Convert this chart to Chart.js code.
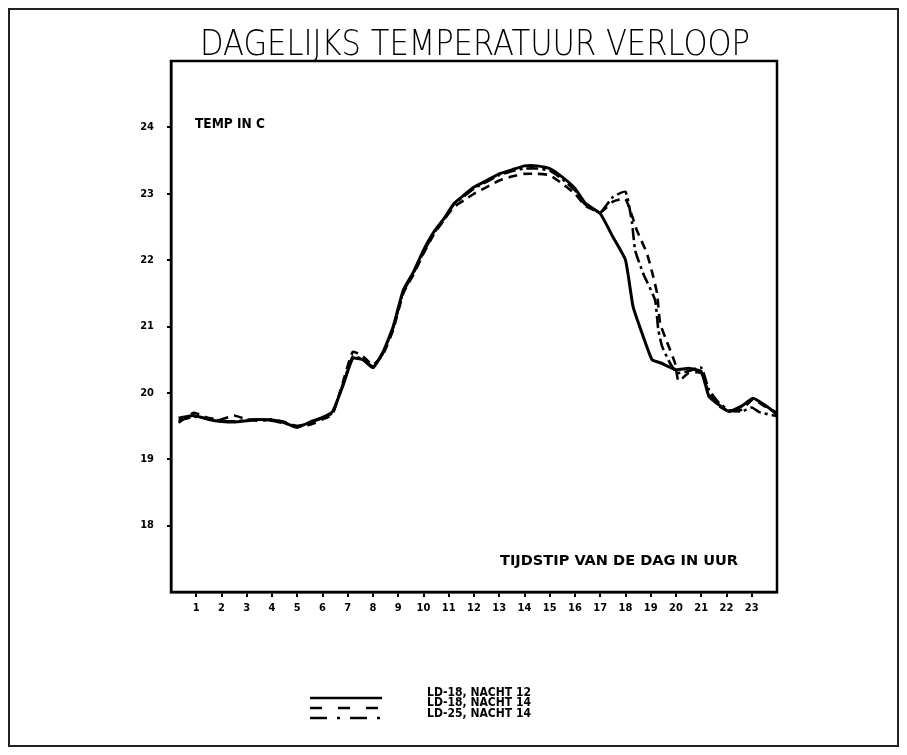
<!DOCTYPE html>
<html><head><meta charset="utf-8">
<script src="https://cdn.jsdelivr.net/npm/chart.js@4.4.1/dist/chart.umd.min.js"></script>
<style>html,body{margin:0;padding:0;background:#fff}#wrap{width:907px;height:755px}</style>
</head><body><div id="wrap"><canvas id="c" width="907" height="755"></canvas></div>
<script>
// ---- text ----
const chartTitle = 'DAGELIJKS TEMPERATUUR VERLOOP';
const yAxisTitle = 'TEMP IN C';
const xAxisTitle = 'TIJDSTIP VAN DE DAG IN UUR';
const seriesLabels = ['LD-18, NACHT 12', 'LD-18, NACHT 14', 'LD-25, NACHT 14'];

// ---- ticks ----
const xTicks = [1,2,3,4,5,6,7,8,9,10,11,12,13,14,15,16,17,18,19,20,21,22,23];
const yTicks = [18,19,20,21,22,23,24];

// ---- data (hour of day, temperature in C) ----
const hoursA = [0.3,0.9,1.5,2,2.5,3,3.5,4,4.5,5,5.5,6,6.4,6.8,7.2,7.6,8,8.4,8.8,9.2,9.6,10,10.4,10.8,11.2,11.6,12,12.5,13,13.5,14,14.5,15,15.5,16,16.4,17,17.5,18,18.3,18.7,19.05,19.4,20,20.5,21,21.3,21.7,22.1,22.6,23.05,23.5,24];
const tempA  = [19.62,19.66,19.6,19.57,19.56,19.58,19.6,19.59,19.55,19.48,19.56,19.63,19.72,20.1,20.52,20.5,20.38,20.62,21.0,21.55,21.82,22.15,22.42,22.62,22.85,22.98,23.1,23.2,23.3,23.36,23.42,23.42,23.38,23.25,23.08,22.86,22.7,22.35,22.0,21.3,20.85,20.5,20.45,20.35,20.37,20.32,19.95,19.82,19.72,19.8,19.92,19.82,19.68];

const hoursB = [0.3,0.9,1.5,2,2.5,3,3.5,4,4.5,5,5.5,6,6.4,6.8,7.2,7.6,8,8.4,8.8,9.2,9.6,10,10.4,10.8,11.2,11.6,12,12.5,13,13.5,14,14.5,15,15.5,16,16.4,17,17.5,18,18.45,18.85,19.1,19.25,19.37,19.64,19.96,20.1,20.5,21,21.3,21.7,22.1,22.6,23.05,23.5,24];
const tempB  = [19.55,19.7,19.62,19.6,19.66,19.6,19.58,19.6,19.56,19.5,19.52,19.6,19.68,20.15,20.62,20.55,20.42,20.58,20.95,21.5,21.78,22.1,22.38,22.6,22.8,22.9,23.0,23.1,23.2,23.26,23.3,23.3,23.28,23.15,23.0,22.82,22.72,22.88,22.92,22.45,22.1,21.75,21.5,21.05,20.77,20.45,20.18,20.3,20.3,20.0,19.8,19.72,19.75,19.9,19.8,19.7];

const hoursC = [0.3,0.9,1.5,2,2.5,3,3.5,4,4.5,5,5.5,6,6.4,6.8,7.2,7.6,8,8.4,8.8,9.2,9.6,10,10.4,10.8,11.2,11.6,12,12.5,13,13.5,14,14.5,15,15.5,16,16.4,17,17.5,18,18.26,18.38,18.7,19.17,19.3,19.45,19.76,20.04,20.5,21,21.3,21.7,22.1,22.6,23,23.3,24];
const tempC  = [19.58,19.64,19.61,19.58,19.57,19.59,19.6,19.58,19.54,19.5,19.55,19.62,19.7,20.12,20.55,20.5,20.4,20.6,20.98,21.52,21.8,22.12,22.4,22.6,22.84,22.96,23.08,23.18,23.28,23.34,23.38,23.38,23.35,23.22,23.05,22.84,22.72,22.95,23.03,22.56,22.15,21.8,21.4,20.95,20.7,20.45,20.3,20.33,20.38,20.05,19.85,19.74,19.72,19.78,19.71,19.65];

const toPts = (xs, ys) => xs.map((x, i) => ({x: x, y: ys[i]}));

const legendDash = [[], [12, 16], [17, 10, 3, 10]];

const framePlugin = {
  id: 'frame',
  afterDraw(chart) {
    const {ctx, chartArea: a} = chart;
    ctx.save();
    ctx.strokeStyle = '#000';
    ctx.lineWidth = 2.5;
    ctx.strokeRect(a.left, a.top, a.right - a.left, a.bottom - a.top);
    ctx.lineWidth = 2;
    ctx.strokeStyle = '#222';
    ctx.strokeRect(9, 9, 889, 737);

    const fit = (text, x, y, w, font) => {
      ctx.font = font;
      const m = ctx.measureText(text).width;
      ctx.save();
      ctx.translate(x, y);
      ctx.scale(w / m, 1);
      ctx.textAlign = 'left';
      ctx.textBaseline = 'alphabetic';
      ctx.fillStyle = '#000';
      ctx.fillText(text, 0, 0);
      ctx.restore();
    };
    fit(chartTitle, 200, 55, 550, '300 35px "DejaVu Sans"');
    fit(yAxisTitle, 195, 128, 70, 'bold 14px "DejaVu Sans Condensed"');
    fit(xAxisTitle, 500, 565, 238, 'bold 14px "DejaVu Sans Condensed"');

    const rowsText = [696, 706, 717];
    const rowsLine = [698, 708, 718];
    const textW = [104, 104, 104];
    chart.data.datasets.forEach((ds, i) => {
      ctx.save();
      ctx.strokeStyle = '#000';
      ctx.lineWidth = 2.5;
      ctx.setLineDash(legendDash[i]);
      ctx.beginPath();
      ctx.moveTo(310, rowsLine[i]);
      ctx.lineTo(382, rowsLine[i]);
      ctx.stroke();
      ctx.restore();
      fit(ds.label, 427, rowsText[i], textW[i], 'bold 13px "DejaVu Sans Condensed"');
    });
    ctx.restore();
  }
};

const tickFont = {family: '"DejaVu Sans Condensed"', weight: 'bold', size: 11};

new Chart(document.getElementById('c'), {
  type: 'line',
  data: {
    datasets: [
      {label: seriesLabels[0], data: toPts(hoursA, tempA), borderColor: '#000', borderWidth: 3, pointRadius: 0, tension: 0.15, fill: false},
      {label: seriesLabels[1], data: toPts(hoursB, tempB), borderColor: '#000', borderWidth: 2.6, borderDash: [9, 6], pointRadius: 0, tension: 0.15, fill: false},
      {label: seriesLabels[2], data: toPts(hoursC, tempC), borderColor: '#000', borderWidth: 2.6, borderDash: [12, 4, 3, 4], pointRadius: 0, tension: 0.15, fill: false}
    ]
  },
  options: {
    responsive: false,
    animation: false,
    devicePixelRatio: 1,
    layout: {padding: {left: 0, top: 61, right: 130, bottom: 123}},
    plugins: {legend: {display: false}, title: {display: false}, tooltip: {enabled: false}},
    scales: {
      x: {
        type: 'linear', min: 0, max: 24,
        afterBuildTicks: s => { s.ticks = xTicks.map(v => ({value: v})); },
        afterFit: s => { s.height = 40; },
        grid: {drawOnChartArea: false, drawTicks: true, tickLength: 5, color: '#000', lineWidth: 2},
        border: {display: true, color: '#000', width: 2.5},
        ticks: {font: tickFont, color: '#000', padding: 5, maxRotation: 0, autoSkip: false}
      },
      y: {
        type: 'linear', min: 17, max: 25,
        afterBuildTicks: s => { s.ticks = yTicks.map(v => ({value: v})); },
        afterFit: s => { s.width = 171; },
        grid: {drawOnChartArea: false, drawTicks: true, tickLength: 4, color: '#000', lineWidth: 2},
        border: {display: true, color: '#000', width: 2.5},
        ticks: {font: tickFont, color: '#000', padding: 13}
      }
    }
  },
  plugins: [framePlugin]
});
</script></body></html>
